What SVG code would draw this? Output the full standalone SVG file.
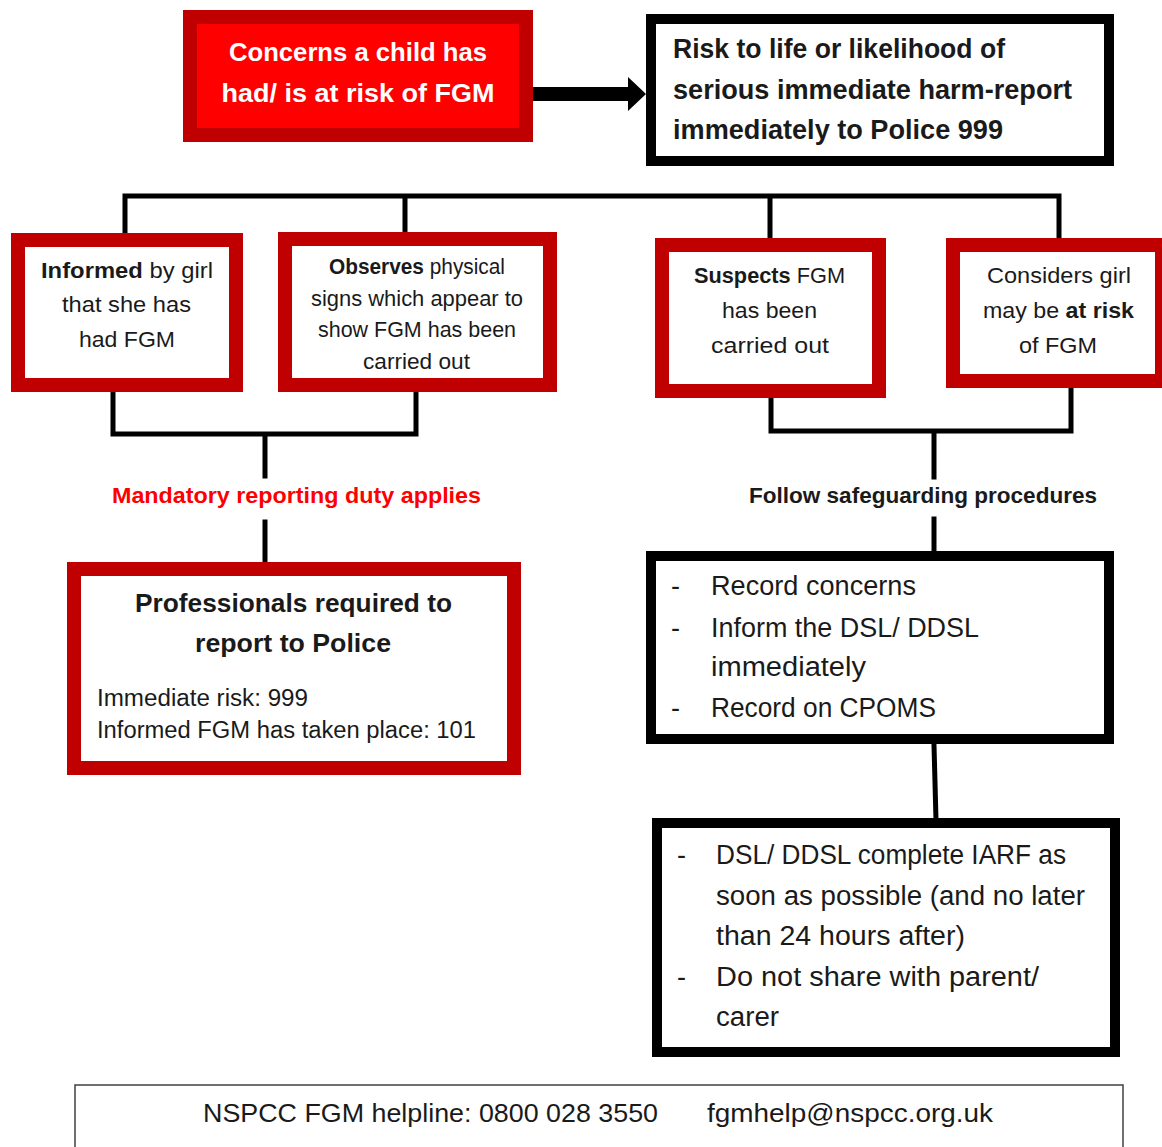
<svg xmlns="http://www.w3.org/2000/svg" width="1162" height="1147" viewBox="0 0 1162 1147">
<style>
text{font-family:"Liberation Sans",Arial,sans-serif;fill:#1a1a1a}
.b{font-weight:bold}
.redbox{fill:#fff;stroke:#C00000;stroke-width:14}
.blkbox{fill:#fff;stroke:#000;stroke-width:10}
.conn{stroke:#000;stroke-width:5;fill:none;stroke-linecap:square}
.sm{font-size:22px}
.bl{font-size:27px}
</style>
<rect width="1162" height="1147" fill="#fff"/>
<g id="connectors">
<path class="conn" d="M125,236 V196 H1059 V240 M405,196 V234 M770,196 V240"/>
<path class="conn" d="M113,394 V434 H416 V394 M265,434 V476"/>
<path class="conn" d="M265,522 V563"/>
<path class="conn" d="M771,400 V431 H1071 V390 M934,431 V477"/>
<path class="conn" d="M934,519 V552"/>
<path class="conn" d="M934,745 L936,820"/>
<polygon points="528,87 628,87 628,77 646,94 628,111 628,101 528,101" fill="#000"/>
</g>
<g id="concerns">
<rect x="190" y="17" width="336" height="118" fill="#FF0000" stroke="#C00000" stroke-width="14"/>
<text class="b" x="358" y="61" font-size="26" text-anchor="middle" style="fill:#fff" textLength="258" lengthAdjust="spacingAndGlyphs">Concerns a child has</text>
<text class="b" x="358" y="102" font-size="26" text-anchor="middle" style="fill:#fff" textLength="273" lengthAdjust="spacingAndGlyphs">had/ is at risk of FGM</text>
</g>
<g id="risk-to-life">
<rect class="blkbox" x="651" y="19" width="458" height="142"/>
<text class="b" x="673" y="58" font-size="27" textLength="332" lengthAdjust="spacingAndGlyphs">Risk to life or likelihood of</text>
<text class="b" x="673" y="99" font-size="27" textLength="399" lengthAdjust="spacingAndGlyphs">serious immediate harm-report</text>
<text class="b" x="673" y="139" font-size="27" textLength="330" lengthAdjust="spacingAndGlyphs">immediately to Police 999</text>
</g>
<g id="informed">
<rect class="redbox" x="18" y="240" width="218" height="145"/>
<text class="sm" x="41" y="278" textLength="172" lengthAdjust="spacingAndGlyphs"><tspan class="b">Informed</tspan> by girl</text>
<text class="sm" x="62" y="312" textLength="129" lengthAdjust="spacingAndGlyphs">that she has</text>
<text class="sm" x="79" y="347" textLength="96" lengthAdjust="spacingAndGlyphs">had FGM</text>
</g>
<g id="observes">
<rect class="redbox" x="285" y="239" width="265" height="146"/>
<text class="sm" x="329" y="274" textLength="176" lengthAdjust="spacingAndGlyphs"><tspan class="b">Observes</tspan> physical</text>
<text class="sm" x="311" y="306" textLength="212" lengthAdjust="spacingAndGlyphs">signs which appear to</text>
<text class="sm" x="318" y="337" textLength="198" lengthAdjust="spacingAndGlyphs">show FGM has been</text>
<text class="sm" x="363" y="369" textLength="107" lengthAdjust="spacingAndGlyphs">carried out</text>
</g>
<g id="suspects">
<rect class="redbox" x="662" y="245" width="217" height="146"/>
<text class="sm" x="694" y="283" textLength="151" lengthAdjust="spacingAndGlyphs"><tspan class="b">Suspects</tspan> FGM</text>
<text class="sm" x="722" y="318" textLength="95" lengthAdjust="spacingAndGlyphs">has been</text>
<text class="sm" x="711" y="353" textLength="118" lengthAdjust="spacingAndGlyphs">carried out</text>
</g>
<g id="considers">
<rect class="redbox" x="953" y="245" width="209" height="136"/>
<text class="sm" x="987" y="283" textLength="144" lengthAdjust="spacingAndGlyphs">Considers girl</text>
<text class="sm" x="983" y="318" textLength="151" lengthAdjust="spacingAndGlyphs">may be <tspan class="b">at risk</tspan></text>
<text class="sm" x="1019" y="353" textLength="78" lengthAdjust="spacingAndGlyphs">of FGM</text>
</g>
<g id="label-mandatory">
<text class="b" x="112" y="503" font-size="22" style="fill:#FF0000" textLength="369" lengthAdjust="spacingAndGlyphs">Mandatory reporting duty applies</text>
</g>
<g id="label-follow">
<text class="b" x="749" y="503" font-size="22" textLength="348" lengthAdjust="spacingAndGlyphs">Follow safeguarding procedures</text>
</g>
<g id="professionals">
<rect class="redbox" x="74" y="569" width="440" height="199"/>
<text class="b" x="135" y="612" font-size="26" textLength="317" lengthAdjust="spacingAndGlyphs">Professionals required to</text>
<text class="b" x="195" y="652" font-size="26" textLength="196" lengthAdjust="spacingAndGlyphs">report to Police</text>
<text x="97" y="706" font-size="23" textLength="211" lengthAdjust="spacingAndGlyphs">Immediate risk: 999</text>
<text x="97" y="738" font-size="23" textLength="379" lengthAdjust="spacingAndGlyphs">Informed FGM has taken place: 101</text>
</g>
<g id="record">
<rect class="blkbox" x="651" y="556" width="458" height="183"/>
<text class="bl" x="671" y="595">-</text>
<text class="bl" x="711" y="595" textLength="205" lengthAdjust="spacingAndGlyphs">Record concerns</text>
<text class="bl" x="671" y="637">-</text>
<text class="bl" x="711" y="637" textLength="268" lengthAdjust="spacingAndGlyphs">Inform the DSL/ DDSL</text>
<text class="bl" x="711" y="676" textLength="155" lengthAdjust="spacingAndGlyphs">immediately</text>
<text class="bl" x="671" y="717">-</text>
<text class="bl" x="711" y="717" textLength="225" lengthAdjust="spacingAndGlyphs">Record on CPOMS</text>
</g>
<g id="iarf">
<rect class="blkbox" x="657" y="823" width="458" height="229"/>
<text class="bl" x="677" y="864">-</text>
<text class="bl" x="716" y="864" textLength="350" lengthAdjust="spacingAndGlyphs">DSL/ DDSL complete IARF as</text>
<text class="bl" x="716" y="905" textLength="369" lengthAdjust="spacingAndGlyphs">soon as possible (and no later</text>
<text class="bl" x="716" y="945" textLength="249" lengthAdjust="spacingAndGlyphs">than 24 hours after)</text>
<text class="bl" x="677" y="986">-</text>
<text class="bl" x="716" y="986" textLength="323" lengthAdjust="spacingAndGlyphs">Do not share with parent/</text>
<text class="bl" x="716" y="1026" textLength="63" lengthAdjust="spacingAndGlyphs">carer</text>
</g>
<g id="footer">
<rect x="75" y="1085" width="1048" height="80" fill="none" stroke="#404040" stroke-width="1.5"/>
<text x="203" y="1122" font-size="26" textLength="455" lengthAdjust="spacingAndGlyphs">NSPCC FGM helpline: 0800 028 3550</text>
<text x="707" y="1122" font-size="26" textLength="286" lengthAdjust="spacingAndGlyphs">fgmhelp@nspcc.org.uk</text>
</g>
</svg>
